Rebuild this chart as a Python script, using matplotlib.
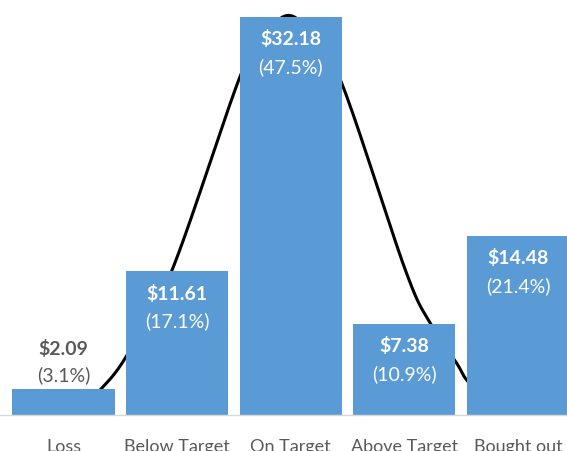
import numpy as np
import matplotlib
matplotlib.use("Agg")
from matplotlib import pyplot as plt

categories = ["Loss", "Below Target", "On Target", "Above Target", "Bought out"]
amounts = [2.09, 11.61, 32.18, 7.38, 14.48]
shares = [3.1, 17.1, 47.5, 10.9, 21.4]

# black curve behind the bars (category units, $)
curve_x = [0.075, 0.32, 0.56, 0.955, 1.56, 1.78, 1.98, 2.18, 2.45, 3.01, 3.23, 3.46, 3.57, 3.86]
curve_y = [0.0, 2.0, 4.85, 11.7, 27.5, 30.8, 32.3, 30.8, 26.8, 11.7, 7.4, 4.2, 2.6, 0.0]

bar_color = "#5B9BD5"
text_gray = "#595959"

plt.rcParams["font.family"] = ["Lato", "DejaVu Sans"]


# Catmull-Rom smoothing through the read points
def smooth(xs, ys, n=30):
	px = np.array([xs[0]] + list(xs) + [xs[-1]], dtype=float)
	py = np.array([ys[0]] + list(ys) + [ys[-1]], dtype=float)
	outx, outy = [], []
	t = np.linspace(0, 1, n)
	for i in range(1, len(px) - 2):
		for p, out in ((px, outx), (py, outy)):
			p0, p1, p2, p3 = p[i - 1], p[i], p[i + 1], p[i + 2]
			m1 = (p2 - p0) / 2
			m2 = (p3 - p1) / 2
			h00 = 2 * t**3 - 3 * t**2 + 1
			h10 = t**3 - 2 * t**2 + t
			h01 = -2 * t**3 + 3 * t**2
			h11 = t**3 - t**2
			out.extend(h00 * p1 + h10 * m1 + h01 * p2 + h11 * m2)
	return np.array(outx), np.array(outy)


fig = plt.figure(figsize=(5.67, 4.51), dpi=100)
ax = fig.add_axes([0, 36 / 451, 1, 415 / 451])

sx, sy = smooth(curve_x, curve_y)
ax.plot(sx, sy, color="black", lw=2.2, solid_capstyle="round", zorder=1)

x = np.arange(len(categories))
ax.bar(x, amounts, width=0.9, color=bar_color, zorder=2)

for i, (amt, pct) in enumerate(zip(amounts, shares)):
	if amt < 5:
		ax.annotate("${:.2f}".format(amt), (i, amt), xytext=(0, 29), textcoords="offset points",
			ha="center", va="center", fontsize=14, fontweight="bold", color=text_gray)
		ax.annotate("({:.1f}%)".format(pct), (i, amt), xytext=(0, 10), textcoords="offset points",
			ha="center", va="center", fontsize=14, color=text_gray)
	else:
		ax.annotate("${:.2f}".format(amt), (i, amt), xytext=(0, -16), textcoords="offset points",
			ha="center", va="center", fontsize=14, fontweight="bold", color="white", zorder=3)
		ax.annotate("({:.1f}%)".format(pct), (i, amt), xytext=(0, -36), textcoords="offset points",
			ha="center", va="center", fontsize=14, color="white", zorder=3)

ax.set_xlim(-63.5 / 113.6, (567 - 63.5) / 113.6)
ax.set_ylim(0, 415 / 12.37)
ax.set_xticks(x)
ax.set_xticklabels(categories, fontsize=13, color=text_gray)
ax.tick_params(axis="x", length=0, pad=17)
ax.set_yticks([])
for side in ["top", "left", "right"]:
	ax.spines[side].set_visible(False)
ax.spines["bottom"].set_color("#D9D9D9")
ax.spines["bottom"].set_linewidth(1)
ax.spines["bottom"].set_zorder(3)

fig.savefig("out.png", dpi=100)
